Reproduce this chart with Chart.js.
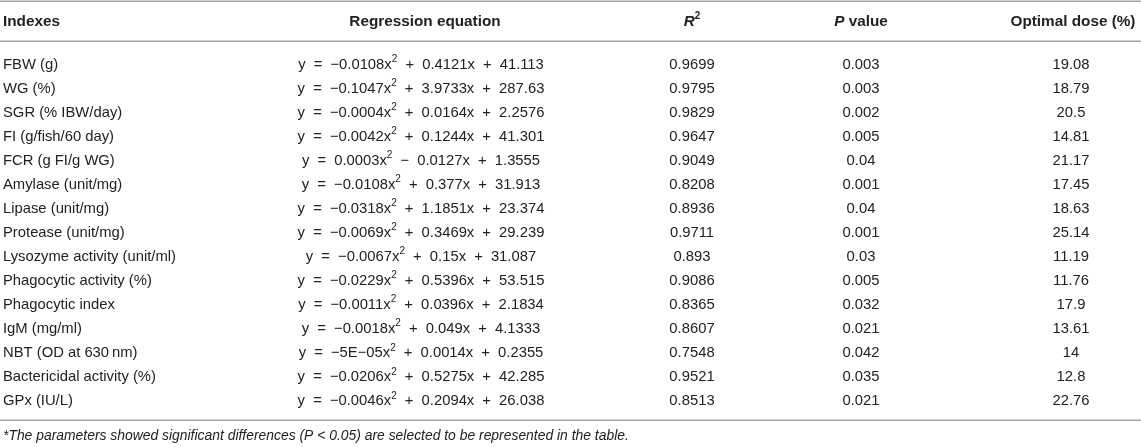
<!DOCTYPE html>
<html><head><meta charset="utf-8">
<script src="https://cdn.jsdelivr.net/npm/chart.js@4.4.1/dist/chart.umd.min.js"></script>
<style>html,body{margin:0;padding:0;background:#fff;}#wrap{width:1141px;height:447px;position:relative;}</style>
</head><body><div id="wrap"><canvas id="c"></canvas></div>
<script>
const indexes = ['FBW (g)','WG (%)','SGR (% IBW/day)','FI (g/fish/60 day)','FCR (g FI/g WG)','Amylase (unit/mg)','Lipase (unit/mg)','Protease (unit/mg)','Lysozyme activity (unit/ml)','Phagocytic activity (%)','Phagocytic index','IgM (mg/ml)','NBT (OD at 630\u2009nm)','Bactericidal activity (%)','GPx (IU/L)'];
const equations = ['y = \u22120.0108x² + 0.4121x + 41.113','y = \u22120.1047x² + 3.9733x + 287.63','y = \u22120.0004x² + 0.0164x + 2.2576','y = \u22120.0042x² + 0.1244x + 41.301','y = 0.0003x² \u2212 0.0127x + 1.3555','y = \u22120.0108x² + 0.377x + 31.913','y = \u22120.0318x² + 1.1851x + 23.374','y = \u22120.0069x² + 0.3469x + 29.239','y = \u22120.0067x² + 0.15x + 31.087','y = \u22120.0229x² + 0.5396x + 53.515','y = \u22120.0011x² + 0.0396x + 2.1834','y = \u22120.0018x² + 0.049x + 4.1333','y = \u22125E\u221205x² + 0.0014x + 0.2355','y = \u22120.0206x² + 0.5275x + 42.285','y = \u22120.0046x² + 0.2094x + 26.038'];
const r2 = ['0.9699','0.9795','0.9829','0.9647','0.9049','0.8208','0.8936','0.9711','0.893','0.9086','0.8365','0.8607','0.7548','0.9521','0.8513'];
const pValues = ['0.003','0.003','0.002','0.005','0.04','0.001','0.04','0.001','0.03','0.005','0.032','0.021','0.042','0.035','0.021'];
const optimalDose = ['19.08','18.79','20.5','14.81','21.17','17.45','18.63','25.14','11.19','11.76','17.9','13.61','14','12.8','22.76'];
const headers = ['Indexes','Regression equation','<i>R</i>²','<i>P</i> value','Optimal dose (%)'];
const footnote = '<i>*The parameters showed significant differences (P < 0.05) are selected to be represented in the table.</i>';

const FONT = '"Liberation Sans", Arial, sans-serif';
const SIZE = 14.8, HSIZE = 15.3, FSIZE = 13.9;
const columns = [
  {values: indexes, x: 3, align: 'left', hx: 3, halign: 'left', gap: 0},
  {values: equations, x: 421, align: 'center', hx: 425, halign: 'center', gap: 4},
  {values: r2, x: 692, align: 'center', hx: 692, halign: 'center', gap: 0},
  {values: pValues, x: 861, align: 'center', hx: 861, halign: 'center', gap: 0},
  {values: optimalDose, x: 1071, align: 'center', hx: 1073, halign: 'center', gap: 0}
];
const LAYOUT = {rowPx: 24.05, firstRowPx: 64.5, headerRow: -1.79, topRule: -2.62, headRule: -0.98, bottomRule: 14.8, footRow: 15.47};

function parseRich(s){
  const segs=[]; let italic=false; let buf=''; let i=0;
  const push=()=>{ if(buf){segs.push({t:buf,italic,sup:false}); buf='';} };
  while(i<s.length){
    if(s.startsWith('<i>',i)){push(); italic=true; i+=3; continue;}
    if(s.startsWith('</i>',i)){push(); italic=false; i+=4; continue;}
    if(s[i]==='²'){push(); segs.push({t:'2',italic:false,sup:true}); i++; continue;}
    if(s[i]===' '){push(); segs.push({t:' ',italic,sup:false,space:true}); i++; continue;}
    buf+=s[i]; i++;
  }
  push();
  return segs;
}
function drawRich(ctx, s, x, y, align, size, bold, gap){
  const segs=parseRich(s);
  const fontFor=(sg)=>(sg.italic?'italic ':'')+(bold?'bold ':'')+(sg.sup?Math.round(size*0.68):size)+'px '+FONT;
  let w=0; segs.forEach(sg=>{ctx.font=fontFor(sg); sg.w=ctx.measureText(sg.t).width+(sg.space?(gap||0):0); w+=sg.w;});
  let cx = align==='left'?x:(align==='center'?x-w/2:x-w);
  ctx.textAlign='left'; ctx.textBaseline='middle';
  segs.forEach(sg=>{ if(!sg.space){ctx.font=fontFor(sg); ctx.fillText(sg.t,cx,sg.sup?y-size*0.36:y);} cx+=sg.w;});
}

const tablePlugin = {
  id:'tableText',
  afterDatasetsDraw(chart){
    const ctx=chart.ctx, ys=chart.scales.y, xs=chart.scales.x;
    ctx.save();
    ctx.fillStyle='#222222';
    ctx.strokeStyle='#a6a6a6'; ctx.lineWidth=1.5;
    [LAYOUT.topRule, LAYOUT.headRule, LAYOUT.bottomRule].forEach(r=>{
      const py=Math.round(ys.getPixelForValue(r))+0.25;
      ctx.beginPath(); ctx.moveTo(xs.left,py); ctx.lineTo(xs.right,py); ctx.stroke();
    });
    const hy=ys.getPixelForValue(LAYOUT.headerRow);
    columns.forEach((c,ci)=>drawRich(ctx, headers[ci], xs.getPixelForValue(c.hx), hy, c.halign, HSIZE, true, 0));
    chart.data.datasets.forEach((ds,di)=>{
      const meta=chart.getDatasetMeta(di);
      meta.data.forEach((el,i)=>drawRich(ctx, columns[di].values[i], el.x, el.y, columns[di].align, SIZE, false, columns[di].gap));
    });
    drawRich(ctx, footnote, xs.getPixelForValue(3), ys.getPixelForValue(LAYOUT.footRow), 'left', FSIZE, false, 0);
    ctx.restore();
  }
};

const yMin = -LAYOUT.firstRowPx/LAYOUT.rowPx;
new Chart(document.getElementById('c'), {
  type:'scatter',
  data:{datasets: columns.map(c=>({data: c.values.map((v,i)=>({x:c.x, y:i})), pointRadius:0, pointHoverRadius:0}))},
  options:{
    animation:false, responsive:true, maintainAspectRatio:false, events:[],
    layout:{padding:0},
    plugins:{legend:{display:false}, tooltip:{enabled:false}},
    scales:{
      x:{type:'linear', min:0, max:1141, display:false},
      y:{type:'linear', reverse:true, min:yMin, max:yMin+447/LAYOUT.rowPx, display:false}
    }
  },
  plugins:[tablePlugin]
});
</script></body></html>
